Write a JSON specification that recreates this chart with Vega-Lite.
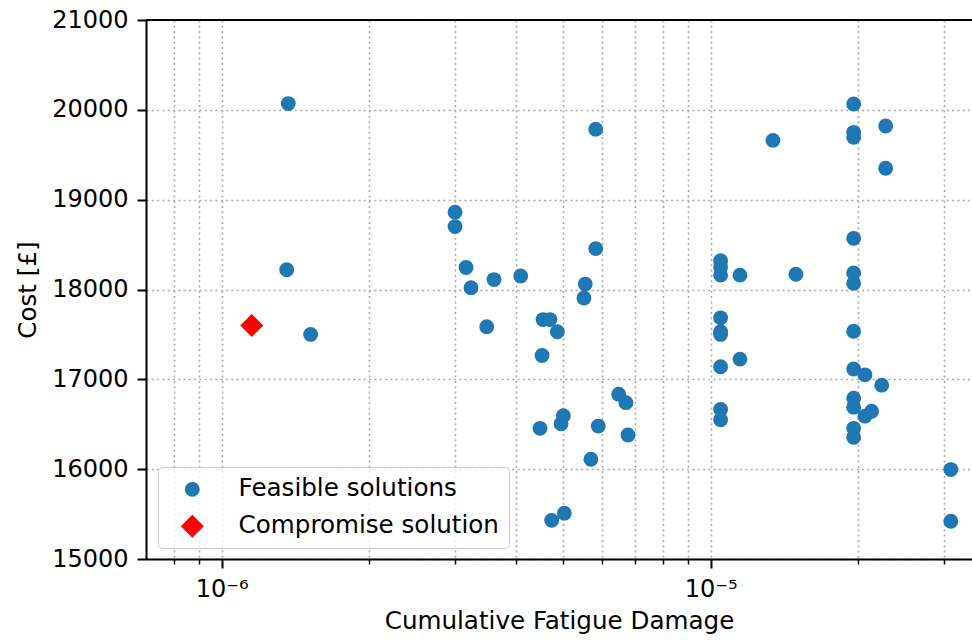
{
  "$schema": "https://vega.github.io/schema/vega-lite/v6.json",
  "width": 826,
  "height": 539,
  "autosize": {"type": "none"},
  "padding": {"left": 146, "top": 20, "right": 0, "bottom": 82},
  "background": "white",
  "config": {
    "font": "DejaVu Sans",
    "view": {"stroke": null},
    "legend": {
      "orient": "none",
      "legendX": 12,
      "legendY": 447,
      "title": null,
      "labelFontSize": 24.6,
      "labelColor": "black",
      "labelFont": "DejaVu Sans",
      "labelLimit": 0,
      "padding": 10,
      "fillColor": "rgba(255,255,255,0.8)",
      "strokeColor": "#cccccc",
      "cornerRadius": 4,
      "rowPadding": 12,
      "symbolOffset": 12,
      "labelOffset": 34,
      "symbolStrokeWidth": 0,
      "symbolOpacity": 1
    }
  },
  "data": {
    "values": [
      {"damage": 1.368e-6, "cost": 20070, "series": "Feasible solutions"},
      {"damage": 1.358e-6, "cost": 18220, "series": "Feasible solutions"},
      {"damage": 1.52e-6, "cost": 17500, "series": "Feasible solutions"},
      {"damage": 3.0e-6, "cost": 18860, "series": "Feasible solutions"},
      {"damage": 3.0e-6, "cost": 18700, "series": "Feasible solutions"},
      {"damage": 3.16e-6, "cost": 18245, "series": "Feasible solutions"},
      {"damage": 3.235e-6, "cost": 18020, "series": "Feasible solutions"},
      {"damage": 3.483e-6, "cost": 17585, "series": "Feasible solutions"},
      {"damage": 3.605e-6, "cost": 18110, "series": "Feasible solutions"},
      {"damage": 4.088e-6, "cost": 18150, "series": "Feasible solutions"},
      {"damage": 4.54e-6, "cost": 17665, "series": "Feasible solutions"},
      {"damage": 4.69e-6, "cost": 17665, "series": "Feasible solutions"},
      {"damage": 4.858e-6, "cost": 17530, "series": "Feasible solutions"},
      {"damage": 4.52e-6, "cost": 17265, "series": "Feasible solutions"},
      {"damage": 4.477e-6, "cost": 16455, "series": "Feasible solutions"},
      {"damage": 4.997e-6, "cost": 16595, "series": "Feasible solutions"},
      {"damage": 4.943e-6, "cost": 16505, "series": "Feasible solutions"},
      {"damage": 4.73e-6, "cost": 15430, "series": "Feasible solutions"},
      {"damage": 5.02e-6, "cost": 15510, "series": "Feasible solutions"},
      {"damage": 5.507e-6, "cost": 17905, "series": "Feasible solutions"},
      {"damage": 5.54e-6, "cost": 18060, "series": "Feasible solutions"},
      {"damage": 5.69e-6, "cost": 16110, "series": "Feasible solutions"},
      {"damage": 5.82e-6, "cost": 19785, "series": "Feasible solutions"},
      {"damage": 5.82e-6, "cost": 18455, "series": "Feasible solutions"},
      {"damage": 5.89e-6, "cost": 16480, "series": "Feasible solutions"},
      {"damage": 6.485e-6, "cost": 16835, "series": "Feasible solutions"},
      {"damage": 6.71e-6, "cost": 16740, "series": "Feasible solutions"},
      {"damage": 6.775e-6, "cost": 16380, "series": "Feasible solutions"},
      {"damage": 1.048e-5, "cost": 18320, "series": "Feasible solutions"},
      {"damage": 1.048e-5, "cost": 18250, "series": "Feasible solutions"},
      {"damage": 1.048e-5, "cost": 18160, "series": "Feasible solutions"},
      {"damage": 1.048e-5, "cost": 17685, "series": "Feasible solutions"},
      {"damage": 1.048e-5, "cost": 17530, "series": "Feasible solutions"},
      {"damage": 1.048e-5, "cost": 17500, "series": "Feasible solutions"},
      {"damage": 1.048e-5, "cost": 17140, "series": "Feasible solutions"},
      {"damage": 1.048e-5, "cost": 16665, "series": "Feasible solutions"},
      {"damage": 1.048e-5, "cost": 16550, "series": "Feasible solutions"},
      {"damage": 1.148e-5, "cost": 18160, "series": "Feasible solutions"},
      {"damage": 1.148e-5, "cost": 17225, "series": "Feasible solutions"},
      {"damage": 1.341e-5, "cost": 19660, "series": "Feasible solutions"},
      {"damage": 1.494e-5, "cost": 18170, "series": "Feasible solutions"},
      {"damage": 1.961e-5, "cost": 20065, "series": "Feasible solutions"},
      {"damage": 1.961e-5, "cost": 19750, "series": "Feasible solutions"},
      {"damage": 1.961e-5, "cost": 19695, "series": "Feasible solutions"},
      {"damage": 1.961e-5, "cost": 18570, "series": "Feasible solutions"},
      {"damage": 1.961e-5, "cost": 18185, "series": "Feasible solutions"},
      {"damage": 1.961e-5, "cost": 18070, "series": "Feasible solutions"},
      {"damage": 1.961e-5, "cost": 17535, "series": "Feasible solutions"},
      {"damage": 1.961e-5, "cost": 17115, "series": "Feasible solutions"},
      {"damage": 1.961e-5, "cost": 16790, "series": "Feasible solutions"},
      {"damage": 1.961e-5, "cost": 16690, "series": "Feasible solutions"},
      {"damage": 1.961e-5, "cost": 16455, "series": "Feasible solutions"},
      {"damage": 1.961e-5, "cost": 16355, "series": "Feasible solutions"},
      {"damage": 2.068e-5, "cost": 17050, "series": "Feasible solutions"},
      {"damage": 2.068e-5, "cost": 16590, "series": "Feasible solutions"},
      {"damage": 2.134e-5, "cost": 16645, "series": "Feasible solutions"},
      {"damage": 2.238e-5, "cost": 16935, "series": "Feasible solutions"},
      {"damage": 2.28e-5, "cost": 19820, "series": "Feasible solutions"},
      {"damage": 2.28e-5, "cost": 19350, "series": "Feasible solutions"},
      {"damage": 3.099e-5, "cost": 15995, "series": "Feasible solutions"},
      {"damage": 3.099e-5, "cost": 15420, "series": "Feasible solutions"},
      {"damage": 1.152e-6, "cost": 17600, "series": "Compromise solution"}
    ]
  },
  "layer": [
    {
      "data": {"values": [{}]},
      "mark": {"type": "rule", "color": "black", "strokeWidth": 2},
      "encoding": {"y": {"datum": 21000, "type": "quantitative"}}
    },
    {
      "mark": {"type": "point", "filled": true, "opacity": 1, "strokeWidth": 0},
      "encoding": {
        "x": {
          "field": "damage",
          "type": "quantitative",
          "scale": {"type": "log", "domain": [7.0e-7, 3.424e-5], "nice": false},
          "axis": {
            "title": "Cumulative Fatigue Damage",
            "values": [8e-7, 9e-7, 1e-6, 2e-6, 3e-6, 4e-6, 5e-6, 6e-6, 7e-6, 8e-6, 9e-6, 1e-5, 2e-5, 3e-5],
            "labelExpr": "datum.value == 1e-6 ? '10⁻⁶' : (datum.value == 1e-5 ? '10⁻⁵' : '')",
            "tickSize": {"condition": {"test": "datum.value == 1e-6 || datum.value == 1e-5", "value": 9}, "value": 5},
            "tickWidth": {"condition": {"test": "datum.value == 1e-6 || datum.value == 1e-5", "value": 2}, "value": 1.5},
            "tickColor": "black",
            "labelFontSize": 24,
            "labelColor": "black",
            "labelPadding": 9,
            "labelFlush": false,
            "labelOverlap": false,
            "grid": true,
            "gridColor": "#aaaaaa",
            "gridDash": [2, 3.3],
            "gridWidth": 1.6,
            "domainColor": "black",
            "domainWidth": 2,
            "titleFontSize": 24.6,
            "titleFontWeight": "normal",
            "titleColor": "black",
            "titlePadding": 8
          }
        },
        "y": {
          "field": "cost",
          "type": "quantitative",
          "scale": {"domain": [15000, 21000], "nice": false, "zero": false},
          "axis": {
            "title": "Cost [£]",
            "values": [15000, 16000, 17000, 18000, 19000, 20000, 21000],
            "format": "d",
            "tickSize": 9,
            "tickWidth": 2,
            "tickColor": "black",
            "labelFontSize": 24,
            "labelColor": "black",
            "labelPadding": 9,
            "labelFlush": false,
            "grid": true,
            "gridColor": "#aaaaaa",
            "gridDash": [2, 3.3],
            "gridWidth": 1.6,
            "domainColor": "black",
            "domainWidth": 2,
            "titleFontSize": 24.6,
            "titleFontWeight": "normal",
            "titleColor": "black",
            "titlePadding": 11
          }
        },
        "color": {
          "field": "series",
          "type": "nominal",
          "scale": {"domain": ["Feasible solutions", "Compromise solution"], "range": ["#1f77b4", "#ff0000"]},
          "legend": {"title": null}
        },
        "shape": {
          "field": "series",
          "type": "nominal",
          "scale": {"domain": ["Feasible solutions", "Compromise solution"], "range": ["circle", "diamond"]},
          "legend": {"title": null}
        },
        "size": {
          "field": "series",
          "type": "nominal",
          "scale": {"domain": ["Feasible solutions", "Compromise solution"], "range": [220, 530]},
          "legend": {"title": null}
        }
      }
    }
  ]
}
